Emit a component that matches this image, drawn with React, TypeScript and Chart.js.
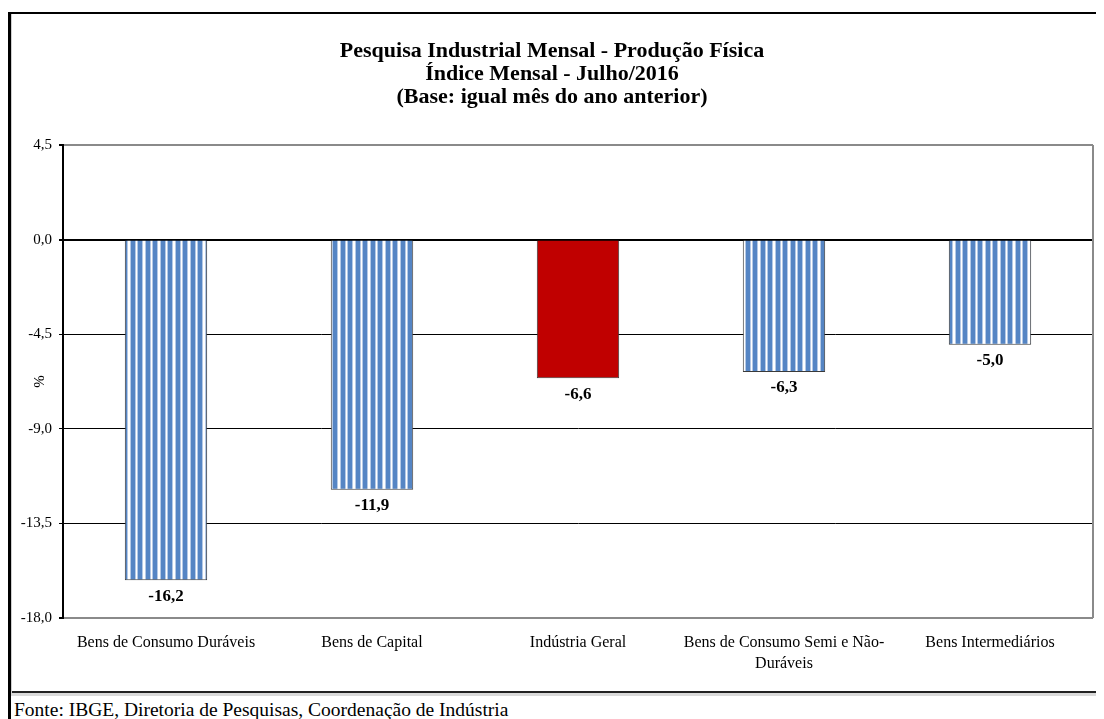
import React, { useEffect, useRef } from 'react';
import { Chart, registerables } from 'chart.js';

Chart.register(...registerables);

const titleLines = [
  'Pesquisa Industrial Mensal - Produção Física',
  'Índice Mensal - Julho/2016',
  '(Base: igual mês do ano anterior)',
];
const categories: string[][] = [
  ['Bens de Consumo Duráveis'],
  ['Bens de Capital'],
  ['Indústria Geral'],
  ['Bens de Consumo Semi e Não-', 'Duráveis'],
  ['Bens Intermediários'],
];
const values = [-16.2, -11.9, -6.6, -6.3, -5.0];
const highlighted = [false, false, true, false, false];
const yTicks = [4.5, 0, -4.5, -9, -13.5, -18];
const yTitle = '%';
const sourceText = 'Fonte: IBGE, Diretoria de Pesquisas, Coordenação de Indústria';

const FONT = "'Liberation Serif', 'Times New Roman', serif";

const fmt = (v: number) => v.toFixed(1).replace('.', ',');

function makeStripes(): CanvasPattern | string {
  const c = document.createElement('canvas');
  c.width = 15;
  c.height = 4;
  const g = c.getContext('2d');
  if (!g) return '#5B87C5';
  g.fillStyle = '#ffffff';
  g.fillRect(0, 0, 15, 4);
  const blue = '#5585C4';
  const mid = '#B4C9E6';
  g.fillStyle = blue;
  g.fillRect(0, 0, 4, 4);
  g.fillRect(7, 0, 4, 4);
  g.fillStyle = mid;
  g.fillRect(4, 0, 1, 4);
  g.fillRect(6, 0, 1, 4);
  g.fillRect(11, 0, 1, 4);
  g.fillRect(14, 0, 1, 4);
  const p = g.createPattern(c, 'repeat');
  return p || blue;
}

const valueLabels = {
  id: 'valueLabels',
  afterDatasetsDraw(chart: any) {
    const ctx = chart.ctx;
    const meta = chart.getDatasetMeta(0);
    ctx.save();
    ctx.font = `bold 17px ${FONT}`;
    ctx.fillStyle = '#000';
    ctx.textAlign = 'center';
    ctx.textBaseline = 'middle';
    meta.data.forEach((el: any, i: number) => {
      ctx.fillText(fmt(values[i]), el.x, el.y + 16);
    });
    ctx.restore();
  },
};

const areaBorder = {
  id: 'areaBorder',
  afterDraw(chart: any) {
    const { ctx, chartArea } = chart;
    ctx.save();
    ctx.strokeStyle = '#8a8a8a';
    ctx.lineWidth = 2;
    ctx.beginPath();
    ctx.moveTo(chartArea.right, chartArea.top);
    ctx.lineTo(chartArea.right, chartArea.bottom);
    ctx.stroke();
    ctx.restore();
  },
};

export default function App() {
  const ref = useRef<HTMLCanvasElement | null>(null);

  useEffect(() => {
    if (!ref.current) return;
    const stripes = makeStripes();
    const chart = new Chart(ref.current, {
      type: 'bar',
      data: {
        labels: categories,
        datasets: [
          {
            data: values,
            backgroundColor: highlighted.map((h) => (h ? '#C00000' : stripes)) as any,
            borderColor: '#3a3a3a',
            borderWidth: 1,
            barPercentage: 0.4,
            categoryPercentage: 1,
          },
        ],
      },
      options: {
        animation: false,
        responsive: true,
        maintainAspectRatio: false,
        layout: { padding: { left: 0, right: 11, top: 0, bottom: 0 } },
        plugins: {
          legend: { display: false },
          tooltip: { enabled: false },
          title: {
            display: true,
            text: titleLines,
            color: '#000',
            font: { family: FONT, size: 22, weight: 'bold', lineHeight: 1.045 },
            padding: { top: 26, bottom: 36 },
          },
        },
        scales: {
          x: {
            grid: { display: false, drawTicks: false },
            border: { display: false },
            ticks: {
              color: '#000',
              font: { family: FONT, size: 16, lineHeight: 1.3125 },
              padding: 14,
              maxRotation: 0,
              autoSkip: false,
            },
            afterFit: (s: any) => {
              s.height = 74;
            },
          },
          y: {
            min: -18,
            max: 4.5,
            afterBuildTicks: (s: any) => {
              s.ticks = yTicks.map((v) => ({ value: v }));
            },
            afterFit: (s: any) => {
              s.width = 52;
            },
            border: { display: true, color: '#000', width: 2 },
            grid: {
              drawTicks: true,
              tickLength: 4,
              tickColor: '#000',
              color: (c: any) => {
                const v = c.tick ? c.tick.value : 0;
                if (v === 4.5 || v === -18) return '#8a8a8a';
                return '#000';
              },
              lineWidth: (c: any) => {
                const v = c.tick ? c.tick.value : 0;
                if (v === 0 || v === 4.5 || v === -18) return 2;
                return 1;
              },
            },
            ticks: {
              color: '#000',
              font: { family: FONT, size: 15 },
              padding: 7,
              callback: (v: any) => fmt(Number(v)),
            },
            title: {
              display: true,
              text: yTitle,
              color: '#000',
              font: { family: FONT, size: 15 },
              padding: { top: 20, bottom: 0 },
            },
          },
        },
      },
      plugins: [valueLabels, areaBorder],
    });
    return () => chart.destroy();
  }, []);

  return (
    <div style={{ position: 'relative', width: 1096, height: 711, overflow: 'hidden', background: '#fff' }}>
      <div
        style={{
          position: 'absolute',
          left: 0,
          top: 4,
          width: 1096,
          height: 681,
          boxSizing: 'border-box',
          borderTop: '2px solid #000',
          borderBottom: '2px solid #222',
        }}
      />
      <div style={{ position: 'absolute', left: 3, top: 685, width: 1093, height: 3, background: '#dadada' }} />
      <div style={{ position: 'absolute', left: 0, top: 4, width: 3, height: 707, background: '#000' }} />
      <div style={{ position: 'absolute', left: 3, top: 6, width: 1, height: 679, background: '#cfcfcf' }} />
      <div style={{ position: 'absolute', left: 3, top: 6, width: 1093, height: 678 }}>
        <canvas ref={ref} />
      </div>
      <div
        style={{
          position: 'absolute',
          left: 6,
          top: 692,
          fontFamily: FONT,
          fontSize: 19.5,
          lineHeight: '20px',
          whiteSpace: 'nowrap',
          color: '#000',
        }}
      >
        {sourceText}
      </div>
    </div>
  );
}
